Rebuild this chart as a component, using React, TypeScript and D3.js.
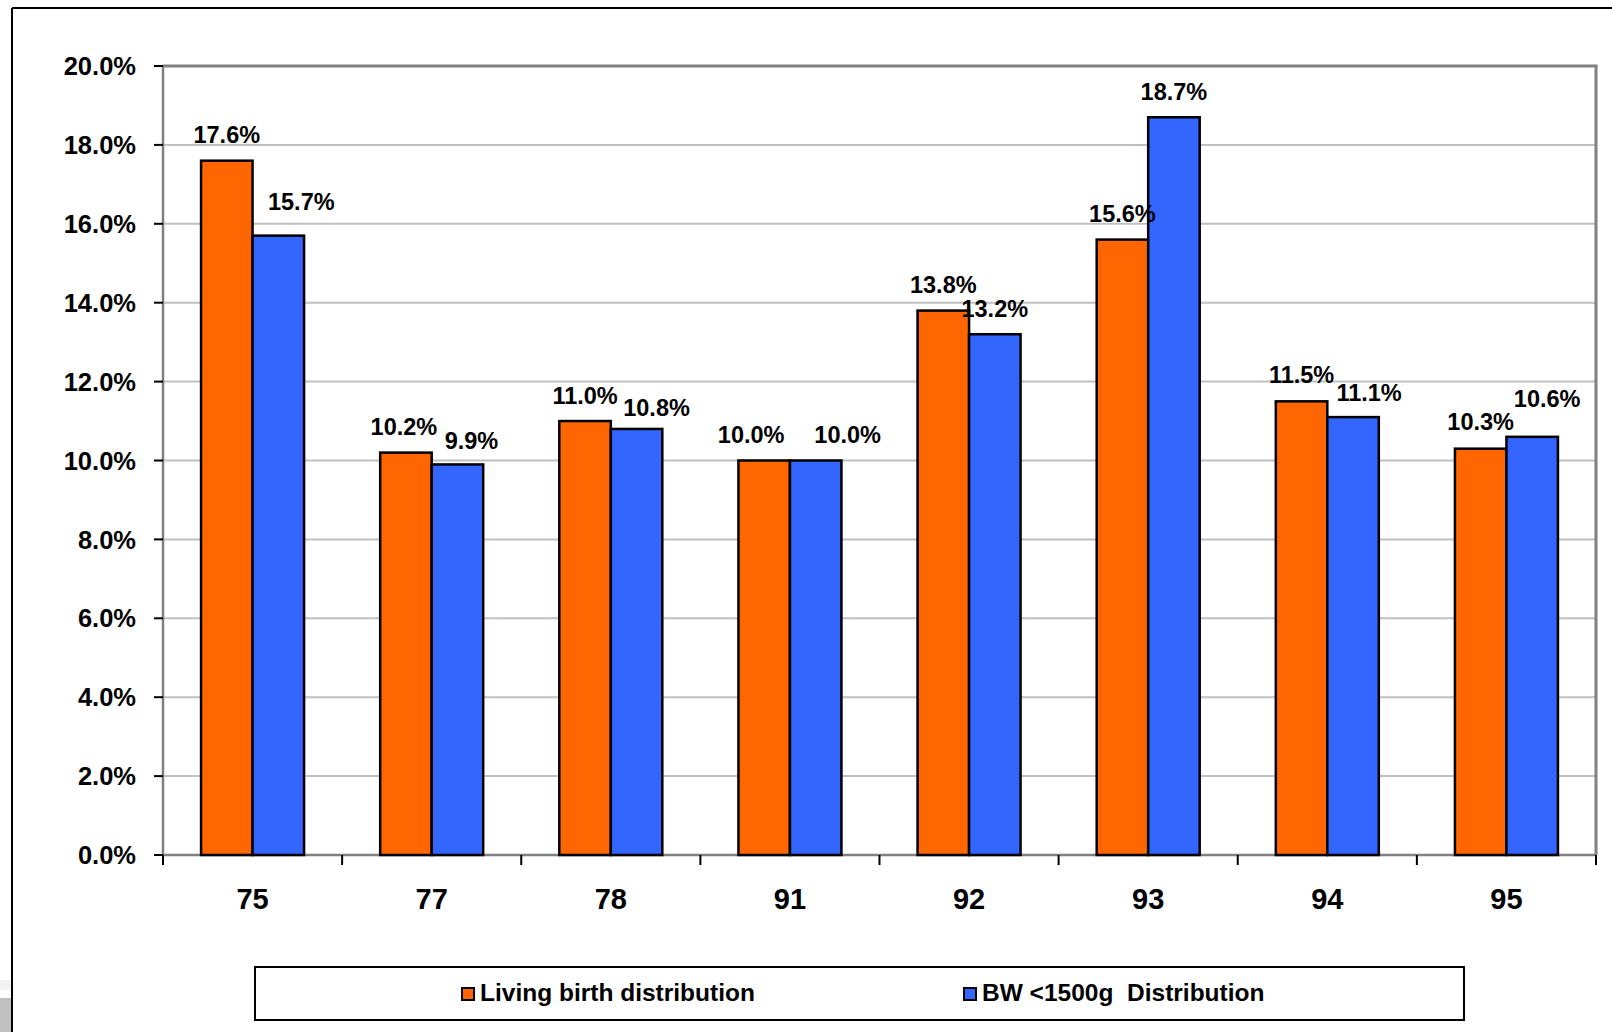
import React from "react";
import * as d3 from "d3";

const categories = ["75", "77", "78", "91", "92", "93", "94", "95"];
const livingBirth = [17.6, 10.2, 11.0, 10.0, 13.8, 15.6, 11.5, 10.3];
const bwUnder1500 = [15.7, 9.9, 10.8, 10.0, 13.2, 18.7, 11.1, 10.6];
const seriesNames = ["Living birth distribution", "BW <1500g  Distribution"];
const seriesColors = ["#FF6600", "#3366FF"];
const yTicks = [0, 2, 4, 6, 8, 10, 12, 14, 16, 18, 20];

// label placement tweaks (layout only, in px)
const labelDx = [
  [0, -2, 0, -13, 0, 0, 0, 0],
  [23, 14, 20, 32, 0, 0, 16, 15],
];
const labelGap = [
  [16.5, 16.5, 16, 16.5, 16, 16.5, 17, 17],
  [24, 14, 11.5, 16.5, 16.5, 16.5, 14.5, 29],
];

const W = 1612;
const H = 1032;
const plot = { left: 163, right: 1596, top: 66, bottom: 855 };
const FONT = "'Liberation Sans', Arial, sans-serif";

export default function App() {
  const x = d3.scaleBand<string>().domain(categories).range([plot.left, plot.right]).paddingInner(0).paddingOuter(0);
  const y = d3.scaleLinear().domain([0, 20]).range([plot.bottom, plot.top]);
  const groupW = 103;
  const series = [livingBirth, bwUnder1500];
  const inner = d3.scaleBand<number>().domain([0, 1]).range([0, groupW]);
  const fmt = (v: number) => v.toFixed(1) + "%";
  const boundaries = categories.map((c) => x(c) as number).concat([plot.right]);

  return (
    <div style={{ position: "fixed", left: 0, top: 0, width: W, height: H, background: "#fff" }}>
      <svg width={W} height={H} style={{ display: "block" }} fontFamily={FONT}>
        <rect x={0} y={0} width={W} height={H} fill="#fff" />
        {/* outer frame */}
        <line x1={12} y1={8} x2={W} y2={8} stroke="#000" strokeWidth={2} />
        <line x1={12} y1={8} x2={12} y2={H} stroke="#000" strokeWidth={2} />
        <rect x={0} y={980} width={11} height={10} fill="#f2f2f2" />
        <rect x={0} y={998} width={11} height={H - 998} fill="#c0c0c0" />

        {/* gridlines */}
        {yTicks.filter((t) => t > 0 && t < 20).map((t) => (
          <line key={t} x1={plot.left} x2={plot.right} y1={y(t)} y2={y(t)} stroke="#c0c0c0" strokeWidth={2} />
        ))}
        {/* plot border */}
        <line x1={plot.left} x2={plot.right + 1.5} y1={plot.top} y2={plot.top} stroke="#808080" strokeWidth={3} />
        <line x1={plot.right} x2={plot.right} y1={plot.top} y2={plot.bottom} stroke="#808080" strokeWidth={3} />
        <line x1={plot.left} x2={plot.left} y1={plot.top} y2={plot.bottom} stroke="#808080" strokeWidth={2.5} />
        <line x1={plot.left} x2={plot.right} y1={plot.bottom} y2={plot.bottom} stroke="#808080" strokeWidth={2.5} />

        {/* y ticks */}
        {yTicks.map((t) => (
          <g key={t}>
            <line x1={154} x2={plot.left} y1={y(t)} y2={y(t)} stroke="#000" strokeWidth={2} />
            <text x={136} y={y(t)} dy="0.36em" textAnchor="end" fontSize={25.5} fontWeight="bold" fill="#000">
              {fmt(t)}
            </text>
          </g>
        ))}

        {/* x ticks */}
        {boundaries.map((b, i) => (
          <line key={i} x1={b} x2={b} y1={plot.bottom} y2={plot.bottom + 10} stroke="#000" strokeWidth={2} />
        ))}

        {/* bars */}
        {categories.map((c, ci) => {
          const cx = (x(c) as number) + x.bandwidth() / 2;
          const g0 = cx - groupW / 2;
          return series.map((s, si) => {
            const bx = g0 + (inner(si) as number);
            return (
              <rect
                key={c + si}
                x={bx}
                y={y(s[ci])}
                width={inner.bandwidth()}
                height={plot.bottom - y(s[ci])}
                fill={seriesColors[si]}
                stroke="#000"
                strokeWidth={2.5}
              />
            );
          });
        })}

        {/* labels */}
        {categories.map((c, ci) => {
          const cx = (x(c) as number) + x.bandwidth() / 2;
          const g0 = cx - groupW / 2;
          return series.map((s, si) => {
            const bx = g0 + (inner(si) as number) + inner.bandwidth() / 2 + labelDx[si][ci];
            return (
              <text
                key={"l" + c + si}
                x={bx}
                y={y(s[ci]) - 1.25 - labelGap[si][ci]}
                textAnchor="middle"
                fontSize={23.5}
                fontWeight="bold"
                fill="#000"
              >
                {fmt(s[ci])}
              </text>
            );
          });
        })}

        {/* x labels */}
        {categories.map((c) => (
          <text
            key={"x" + c}
            x={(x(c) as number) + x.bandwidth() / 2}
            y={909}
            textAnchor="middle"
            fontSize={29}
            fontWeight="bold"
            fill="#000"
          >
            {c}
          </text>
        ))}

        {/* legend */}
        <rect x={255} y={967} width={1209} height={53} fill="#fff" stroke="#000" strokeWidth={2} />
        {[462, 964].map((lx, i) => (
          <g key={"lg" + i}>
            <rect x={lx} y={988} width={12} height={12} fill={seriesColors[i]} stroke="#000" strokeWidth={2} />
            <text x={lx + 18} y={1001} fontSize={24.5} fontWeight="bold" fill="#000" style={{ whiteSpace: "pre" }}>
              {seriesNames[i]}
            </text>
          </g>
        ))}
      </svg>
    </div>
  );
}
